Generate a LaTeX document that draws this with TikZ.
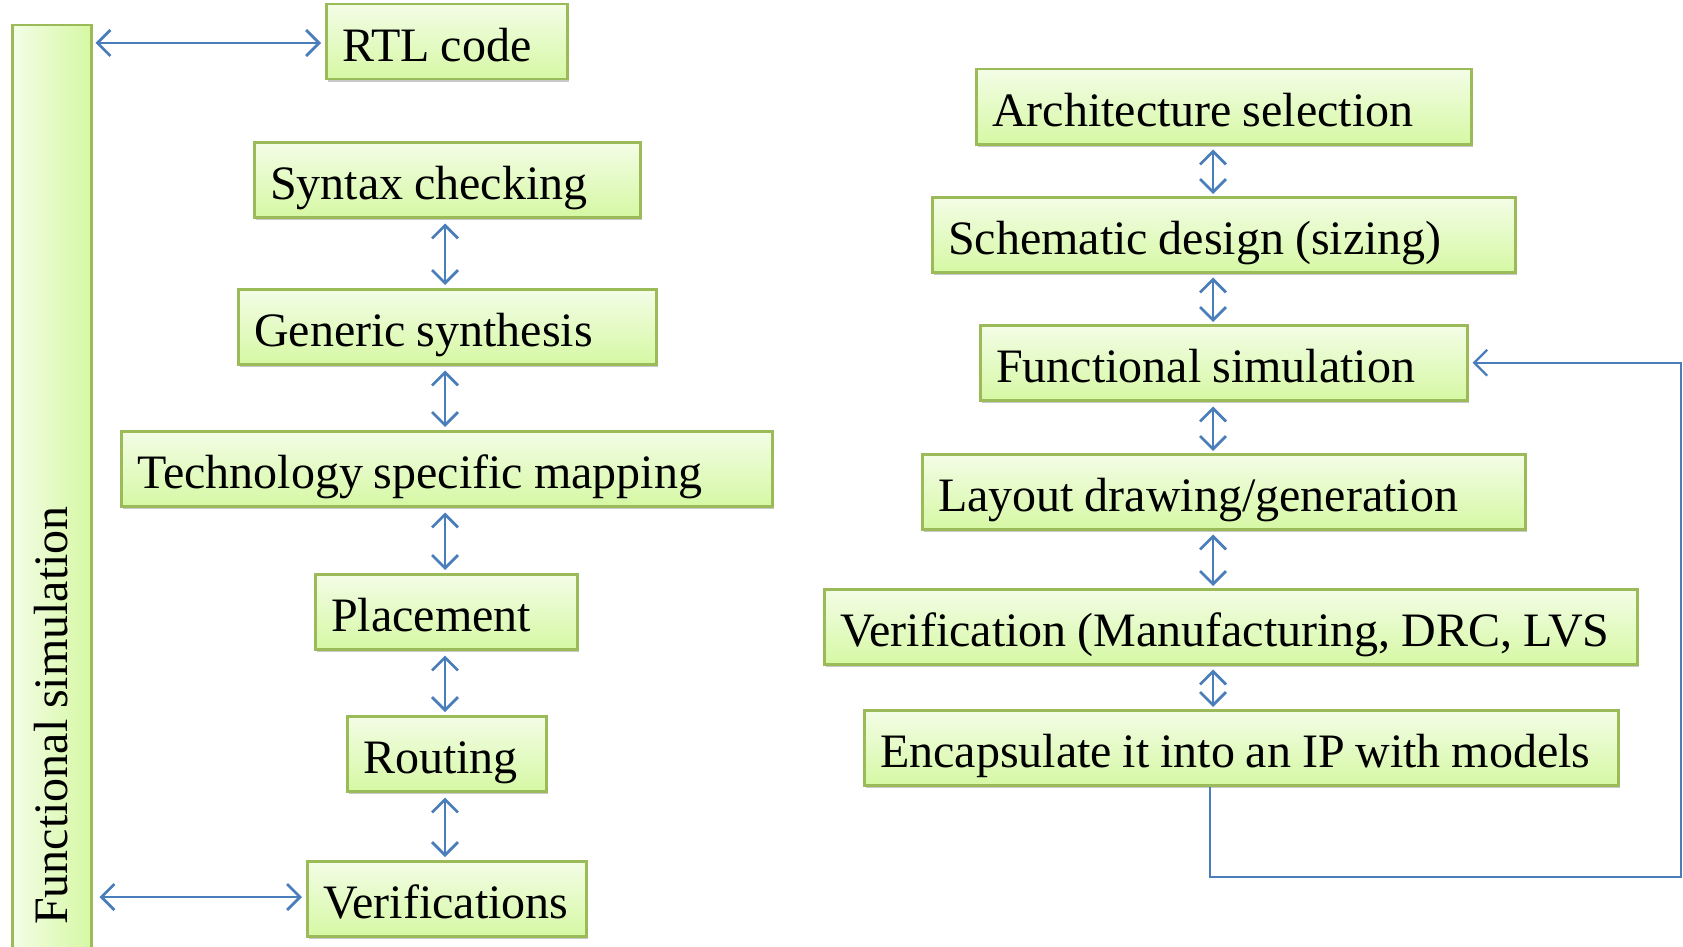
\documentclass[tikz,border=0pt]{standalone}
\usepackage{fontspec}
\setmainfont[WordSpace=0.9]{Liberation Serif}
\usetikzlibrary{arrows.meta,shadows,calc}
\definecolor{boxline}{HTML}{9BBB59}
\definecolor{boxtop}{HTML}{F3FDE6}
\definecolor{boxbot}{HTML}{D6F8A4}
\definecolor{arrblue}{HTML}{4A7EBB}
\begin{document}
\begin{tikzpicture}[x=1pt,y=-1pt,
  stage/.style={draw=boxline, line width=2.5pt, top color=boxtop, bottom color=boxbot,
    drop shadow={shadow xshift=2pt, shadow yshift=-3pt, opacity=0.3, fill=black!70},
    font=\fontsize{48}{56}\selectfont, inner xsep=16pt, inner ysep=0pt,
    text height=46pt, text depth=6pt,
    anchor=north west, minimum height=75pt,
    execute at begin node={\hbox to #1\bgroup},
    execute at end node={\hfil\egroup}},
  barb/.tip={Straight Barb[length=13pt,width=26pt]},
  link/.style={draw=arrblue, line width=2.8pt, barb-barb},
  back/.style={draw=arrblue, line width=2.4pt, -barb}]
\useasboundingbox (0,0) rectangle (1683,947);
\clip (0,0) rectangle (1683,947);

% left flow: functional simulation bar
\node[draw=boxline, line width=2.5pt, left color=boxtop, right color=boxbot,
  minimum width=79pt, minimum height=940pt, inner sep=0pt, anchor=north west]
  (fsbar) at (11,24) {};
\node[font=\fontsize{48}{56}\selectfont, rotate=90, anchor=west, inner sep=0pt]
  (fstext) at (51,925) {Functional simulation};

% left flow: digital design steps
\node[stage=209pt] (rtl) at (325,3) {RTL code};
\node[stage=354pt] (syn) at (253,141) {Syntax checking};
\node[stage=386pt] (gen) at (237,288) {Generic synthesis};
\node[stage=619pt] (tech) at (120,430) {Technology specific mapping};
\node[stage=230pt] (place) at (314,573) {Placement};
\node[stage=167pt] (route) at (346,715) {Routing};
\node[stage=247pt] (verl) at (306,860) {Verifications};

\coordinate (xl) at (445,0);
\draw[link] ($(syn.south -| xl)+(0,5)$) -- ($(gen.north -| xl)+(0,-3)$);
\draw[link] ($(gen.south -| xl)+(0,5)$) -- ($(tech.north -| xl)+(0,-3)$);
\draw[link] ($(tech.south -| xl)+(0,5)$) -- ($(place.north -| xl)+(0,-3)$);
\draw[link] ($(place.south -| xl)+(0,5)$) -- ($(route.north -| xl)+(0,-3)$);
\draw[link] ($(route.south -| xl)+(0,5)$) -- ($(verl.north -| xl)+(0,-3)$);

\coordinate (ytop) at (0,43);
\coordinate (ybot) at (0,897);
\draw[link] ($(fsbar.east |- ytop)+(3,0)$) -- ($(rtl.west |- ytop)+(-4,0)$);
\draw[link] ($(fsbar.east |- ybot)+(7,0)$) -- ($(verl.west |- ybot)+(-4,0)$);

% right flow: full custom design steps
\node[stage=463pt] (arch) at (975,68) {Architecture selection};
\node[stage=551pt] (sch) at (931,196) {Schematic design (sizing)};
\node[stage=455pt] (fsim) at (979,324) {Functional simulation};
\node[stage=571pt] (lay) at (921,453) {Layout drawing/generation};
\node[stage=781pt] (verr) at (823,588) {Verification (Manufacturing, DRC, LVS};
\node[stage=722pt] (ip) at (863,709) {Encapsulate it into an IP with models};

\coordinate (xr) at (1213,0);
\draw[link] ($(arch.south -| xr)+(0,4)$) -- ($(sch.north -| xr)+(0,-2)$);
\draw[link] ($(sch.south -| xr)+(0,4)$) -- ($(fsim.north -| xr)+(0,-2)$);
\draw[link] ($(fsim.south -| xr)+(0,5)$) -- ($(lay.north -| xr)+(0,-2)$);
\draw[link] ($(lay.south -| xr)+(0,4)$) -- ($(verr.north -| xr)+(0,-2)$);
\draw[link] ($(verr.south -| xr)+(0,4)$) -- ($(ip.north -| xr)+(0,-2)$);

% feedback from the IP back to functional simulation
\coordinate (fbx) at (1210,0);
\coordinate (fbc) at (1681,877);
\draw[back] (ip.south -| fbx) -- (fbx |- fbc) -- (fbc) -- (fbc |- fsim.east)
  -- ($(fsim.east)+(4,0)$);
\end{tikzpicture}
\end{document}
